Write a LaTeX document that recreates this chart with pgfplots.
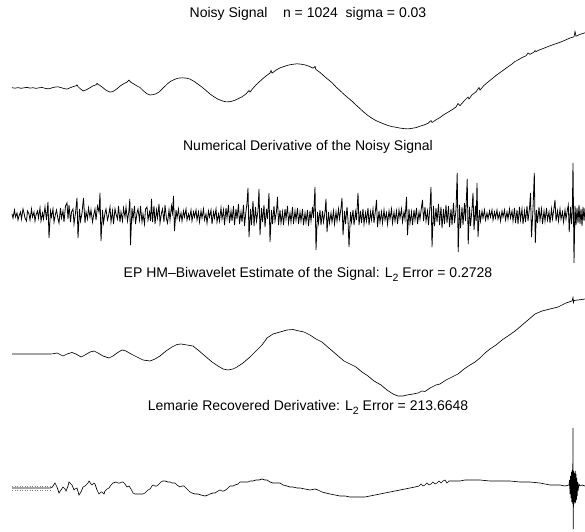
\documentclass[border=0pt]{standalone}
\usepackage{pgfplots}
\pgfplotsset{compat=1.18}
\usepackage{fontspec}
\setmainfont{Liberation Sans}
\newcommand{\ttl}{\fontsize{14}{16}\selectfont}
\newcommand{\Ltwo}{L\raisebox{-4pt}{\fontsize{10.5}{11}\selectfont 2}}
\pgfplotsset{panel/.style={scale only axis, width=592pt, height=110pt,
  xmin=12, xmax=604, hide axis, clip=false, anchor=south west}}
\begin{document}
\begin{tikzpicture}
% ---------- Panel 1: noisy signal ----------
\begin{axis}[panel, at={(12pt,396pt)}, ymin=-47, ymax=63]
\addplot[black, line width=0.65pt] table {
x y
12 0.3
15 -0.2
18 0.4
21 -0.3
24 0.2
27 0.6
30 -0.1
33 0.3
36 -0.4
39 0.2
42 0.5
45 -0.3
48 -0.8
50 -0.6
52 0.2
55 0.9
58 1.2
61 0.4
64 -0.5
67 -1.1
70 0.2
73 1.3
76 2.2
77 3.2
78 1.5
80 -0.5
83 -2.8
86 -2.0
90 0.3
93 2.1
96 3.2
97 4.6
98 3.6
100 2.5
103 0.3
106 -2.2
110 -4.1
113 -3.5
117 -0.8
120 1.9
124 4.5
127 5.9
129 7.9
130 6.6
131 5.6
134 3.9
137 2.0
140 0.5
143 -2.5
147 -5.8
150 -7.0
153 -6.6
156 -5.8
159 -4.0
162 -1.2
165 1.8
168 4.7
171 6.9
175 8.8
178 9.8
182 10.2
186 9.9
190 8.9
194 6.7
198 3.8
202 0.9
206 -2.5
210 -6.0
214 -8.8
218 -11.2
222 -12.8
226 -13.9
230 -13.7
234 -12.6
238 -10.8
242 -8.9
246 -5.9
249 -2.5
250 -4.0
253 -0.3
256 3.1
260 6.8
263 9.5
266 12.0
270 15.0
271 17.5
272 14.9
276 17.9
280 20.1
284 21.5
288 22.8
292 23.6
297 24.2
301 23.8
305 23.1
309 21.8
313 19.8
315 21.5
316 18.4
320 15.6
324 12.0
328 8.6
332 5.3
336 1.0
340 -2.6
344 -6.4
348 -9.8
352 -13.2
356 -17.0
360 -20.6
364 -24.3
368 -27.6
372 -30.3
376 -32.6
380 -34.4
384 -36.0
388 -37.5
392 -38.6
396 -39.3
400 -40.1
404 -40.6
408 -40.9
412 -40.3
416 -39.6
420 -38.2
424 -37.0
428 -35.3
431 -32.5
432 -34.5
436 -31.8
440 -29.5
444 -26.6
448 -24.2
452 -21.8
456 -19.0
458 -15.5
460 -17.7
464 -13.0
468 -9.0
469 -11.0
472 -6.9
476 -3.8
479 0.5
480 -2.1
484 2.6
488 6.0
492 9.2
496 12.5
500 15.4
504 18.3
508 21.2
512 24.0
515 26.5
518 28.0
522 30.4
526 32.2
528 35.0
530 33.7
534 35.9
535 37.5
536 36.4
538 37.5
542 39.0
546 40.6
550 42.2
554 43.6
558 45.0
562 46.5
566 48.2
570 50.0
574 51.2
575 56.5
576 51.8
580 53.6
585 55.2
};
\node[anchor=base, font=\ttl] at (axis cs:308,70) {Noisy Signal\ \ \ \ n = 1024\ \ sigma = 0.03};
\end{axis}
% ---------- Panel 2: numerical derivative ----------
\begin{axis}[panel, at={(12pt,261pt)}, ymin=-55, ymax=55]
\addplot[black, line width=0.8pt] table {
x y
12 1
13 -3
14.5 5
15.5 -2
17 2
18 -5
19 -1
20.5 3
21.5 -4
23 6
24 2
25 -3
26.5 -6
27.5 4
29 1
30 -5
31.5 6
32.5 -2
34 3
35 -6
36 0
37.5 4
38.5 -3
40 7
41 -6
42.5 2
43.5 -4
45 8
46.5 -5
48 13
49 -23
50.5 4
51.5 -2
53 6
54 -7
55.5 1
56.5 5
58 -4
59 -8
60.5 7
61.5 -3
63 4
64 -7
65.5 9
67 12
68 -4
69 10
70.5 -7
71.5 3
73 6
74 -9
75.5 2
77 17
78 -23
79.5 6
80.5 -6
82 2
83.5 17
85 -8
86 3
87.5 -4
88.5 7
90 -2
91 5
92.5 -7
93.5 -1
95 6
96 -5
97.5 9
99 3
100 22
101 -26
102.5 5
103.5 -8
105 2
106 6
107.5 -5
108.5 -1
110 8
111 -7
112.5 4
113.5 -9
115 6
116 1
117.5 -4
118.5 9
120 -7
121 3
122.5 -6
123.5 7
125 -2
126 8
127.5 -6
129 5
129.8 16
130.5 -30
132 7
133 -4
134.5 9
135.5 -9
137 2
138 6
139.5 -5
140.5 9
142 -7
143 1
144.5 -9
145.5 6
147 8
148 -5
149.5 3
150.5 -6
151.5 16
152.5 -7
154 9
155 -9
156.5 5
157.5 -3
159 11
160 -8
161.5 2
162.5 6
164 -7
165 10
166.5 -4
167.5 -8
169 5
170 -5
171.5 9
172.5 2
173.5 19
174.5 -16
176 5
177 -3
178.5 6
179.5 -5
181 2
182 -6
183.5 4
184.5 -2
186 6
187 -5
188.5 1
189.5 -4
191 5
192 -6
193.5 3
194.5 -2
196 5
197 -5
198.5 3
199.5 -7
201 4
202 -3
203.5 6
204.5 -5
206 1
207 -8
208.5 4
209.5 -2
211 5
212 -9
213.5 3
214.5 -3
216 6
217 -7
218.5 1
219.5 -6
221 7
222 -4
223.5 5
224.5 -10
226 7
227 -3
228.5 10
229.5 -8
231 4
232 -6
233.5 9
234.5 -10
236 6
237 -4
238.5 11
239.5 -9
241 3
242 -7
243.5 10
244.5 -11
246 4
247 12
248 27
249 -22
250.5 6
251.5 -10
253 14
254 -11
255.5 8
256.5 -6
258 4
259 26
260 -20
261.5 7
262.5 -7
264 10
265 -12
266.5 6
267.5 -4
269 22
270 -27
271.5 5
272.5 -9
274 9
275 -6
276.5 4
277.5 18
278.5 -10
280 5
281 -8
282.5 3
283.5 -10
285 6
286 -4
287.5 9
288.5 -8
290 2
291 -7
292.5 8
293.5 -9
295 4
296 -5
297.5 7
298.5 -9
300 3
301 -6
302.5 6
303.5 -10
305 2
306 -7
307.5 5
308.5 -11
310 4
311 -6
312.5 8
313.5 -3
315 28
316 -35
317.5 3
318.5 -8
320 5
321 -10
322.5 4
323.5 -7
325 3
326 16
327 -17
328.5 3
329.5 -8
331 2
332 -7
333.5 4
334.5 -9
336 3
337 -6
338.5 6
339.5 -4
341 7
342 17
343 -20
344.5 4
345.5 -9
347 8
348 -5
349 -32
350.5 3
351.5 -7
353 5
354 -10
355.5 3
356.5 -5
358 22
359 -10
360.5 4
361.5 -8
363 6
364 -9
365.5 2
366.5 -6
368 7
369 -10
370.5 3
371.5 -5
373 6
374 -8
375.5 5
376.5 15
377.5 -12
379 4
380 -7
381.5 3
382.5 -8
384 5
385 -5
386.5 2
387.5 -9
389 4
390 -4
391.5 6
392.5 -8
394 3
395 -6
396.5 4
397.5 -9
399 5
400 -3
401.5 6
402.5 -7
404 3
405 -4
406.5 18
407.5 -20
409 6
410 -8
411.5 3
412.5 -10
414 5
415 -5
416.5 7
417.5 -9
419 3
420 -4
421.5 8
422.5 15
423.5 -6
425 8
426 -6
427.5 4
428.5 -10
430 9
431 28
432 -32
433.5 9
434.5 -11
436 7
437 -7
438.5 11
439.5 -10
441 8
442 -13
443.5 6
444.5 -9
446 10
447 -8
448.5 9
449.5 -12
451 6
452 -10
453.5 12
454.5 -8
456 5
457.2 42
458.2 -37
459.5 10
460.5 -13
462 8
463 -10
464.5 12
465.5 -6
467.2 36
468.2 -29
469.5 8
470.5 -11
472 6
473 22
474 -15
475.5 9
476.2 -6
477 32
478 -22
479.5 5
480.5 -6
482 4
483 -3
484.5 5
485.5 -5
487 2
488 -4
489.5 4
490.5 -2
492 5
493 -5
494.5 3
495.5 -3
497 5
498 -4
499.5 2
500.5 -6
502 4
503 -2
504.5 5
505.5 -5
507 3
508 -4
509.5 6
510.5 -3
512 4
513 -6
514.5 7
515.5 -8
517 5
518 -9
519.5 8
520.5 -5
522 6
523 -9
524.5 4
525.5 -7
527 9
528 -6
529.5 7
530.5 22
531.5 -22
533 6
534.3 42
535.3 -28
536.5 5
537.5 -8
539 8
540 -5
541.5 6
542.5 -9
544 4
545 -6
546.5 7
547.5 -5
549 3
550 -8
551.5 6
552.5 -4
554 7
555 15
556 -6
557.5 4
558.5 -6
560 6
561 -4
562.5 3
563.5 -7
565 5
566 -4
567.5 6
568.3 10
569.2 -17
570.5 8
571.5 -9
572.3 4
573 52
574 -48
575 9
576 -10
577 7
578 -8
579 10
580 -9
581 6
582 -11
583 8
584 -6
585 7
586 -5
};
\node[anchor=base, font=\ttl] at (axis cs:308,64) {Numerical Derivative of the Noisy Signal};
\end{axis}
% ---------- Panel 3: EP HM-Biwavelet estimate ----------
\begin{axis}[panel, at={(12pt,131pt)}, ymin=-46, ymax=64]
\addplot[black, line width=0.65pt] table {
x y
12 0
50 0
53 0.2
57 1
60 -0.5
63 -2
67 0
72 1.5
76 0
81 -3
85 -1
90 2
94 3
98 1
103 -2
109 -4
113 -2
117 1
122 4
126 3
131 0
137 -3
143 -6
150 -7
155 -5
160 -2
166 3
172 7
177 9.5
181 10
187 9
193 8
198 4
205 -2
212 -8
218 -12
223 -15
228 -16
233 -15
237 -13
243 -9
250 -3
256 3
262 9
267 16
273 20
280 22
287 24
293 24.5
299 23
304 22
310 19
316 15
322 12
330 5
337 -1
344 -7
350 -10
356 -13
362 -18
368 -22
374 -27
381 -31
387 -36
393 -40
398 -42
403 -42
407 -41
413 -40
418 -39
422 -37
425 -37.5
430 -34
436 -31
440 -30
446 -26
452 -23
458 -20
464 -15
470 -11
475 -8
480 -4
485 1
490 5
496 9
502 14
508 18
515 23
521 28
528 34
535 40
542 43
550 45
558 47
566 51
572 53
573 56.5
573.5 51.5
574 53.5
578 54
585 55
};
\node[anchor=base, font=\ttl] at (axis cs:308,76) {EP HM--Biwavelet Estimate of the Signal: \Ltwo\ Error = 0.2728};
\end{axis}
% ---------- Panel 4: Lemarie recovered derivative ----------
\begin{axis}[panel, at={(12pt,0pt)}, ymin=-43, ymax=67]
\addplot[gray, dotted, line width=0.5pt] table {
x y
12 2
50 2
};
\addplot[gray, dotted, line width=0.5pt] table {
x y
12 -2.5
50 -2.5
};
\addplot[black, line width=0.65pt] table {
x y
12 0
50 0
52 0.5
55 5
57 1
59 -5
61 -2
63 1
65 -1
66 -3
68 2
69 6
71 4
72 3
74 -2
75 -1
77 0
79 -7
81 -4
83 1
85 2
86 3
88 5
89 7
91 4
92 3
94 5
95 4
97 -2
99 -6
101 -4
102 -4
104 -6
105 -3
107 -1
109 0
111 3
113 5
116 6
118 5
120 5
122 6
123 6
125 4
127 1
129 2
131 -1
133 -5
135 -6
137 -6
140 -6
143 -6
145 -5
146 -4
148 -2
150 -1
152 2
153 3
155 2
157 2
159 4
161 6
163 7
165 7
168 6
170 6
172 5
175 5
177 3
180 1
182 2
184 2
186 0
188 -2
190 -4
192 -5
195 -6
198 -6
201 -7
205 -8
208 -7
210 -6
213 -5
215 -5
218 -3
220 -2
222 -3
224 -3
227 -1
230 2
233 2
235 3
238 4
240 6
243 6
245 6
248 6
250 7
253 7
256 8
259 8
262 9
265 8
267 8
270 6
273 5
276 5
280 5
283 3
287 2
290 1
293 1
297 0
300 0
305 -1
310 -2
315 -1
318 -2
322 -4
326 -5
330 -6
335 -7
340 -8
345 -8
350 -9
355 -9
360 -9
365 -9
370 -8
375 -7
380 -6
385 -5
390 -4
395 -3
400 -2
405 -1
410 0
415 1
419 2
421 4
423 2
425 3
427 5
429 3
431 4
433 6
435 4
437 5
439 7
441 5
443 7
445 8
447 5
449 7
452 7
456 7
460 7
465 8
470 8
480 8
490 7
500 7
510 7
520 6
530 6
540 5
545 4
550 3
555 3
560 3
565 2
569 3
569.5 8
570 -6
570.5 12
571 -10
571.4 16
571.8 -14
572.2 18
572.6 -16
573 60
573.3 -41
573.6 17
574 -16
574.4 15
574.8 -14
575.2 17
575.6 -15
576 14
576.4 -12
576.8 10
577.2 -8
577.6 6
578 -3
579 4
580 2
582 3
585 2
};
\node[anchor=base, font=\ttl] at (axis cs:308,77) {Lemarie Recovered Derivative: \Ltwo\ Error = 213.6648};
\end{axis}
\pgfresetboundingbox
\path[use as bounding box] (0,0) rectangle (585pt,531pt);
\end{tikzpicture}
\end{document}
